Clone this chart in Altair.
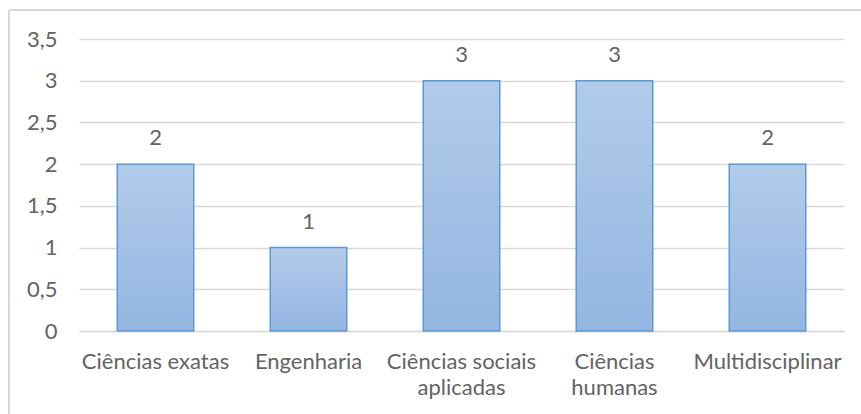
import altair as alt
import pandas as pd

# Number of items per knowledge area
categories = ["Ciências exatas", "Engenharia", "Ciências sociais aplicadas",
              "Ciências humanas", "Multidisciplinar"]
values = [2, 1, 3, 3, 2]
y_ticks = [0, 0.5, 1, 1.5, 2, 2.5, 3, 3.5]

df = pd.DataFrame({"area": categories, "valor": values})

FONT = "Lato"
SIZE = 22
GREY = "#636363"
GRID = "#d9d9d9"

wrap_expr = (
    "datum.label == 'Ciências sociais aplicadas' ? ['Ciências sociais', 'aplicadas'] : "
    "datum.label == 'Ciências humanas' ? ['Ciências', 'humanas'] : datum.label"
)

x_enc = alt.X(
    "area:N", sort=categories, title=None,
    scale=alt.Scale(paddingInner=0.5, paddingOuter=0.25),
    axis=alt.Axis(labelAngle=0, labelExpr=wrap_expr, labelFont=FONT, labelFontSize=SIZE,
                  labelColor=GREY, labelPadding=20, labelLineHeight=26,
                  labelBaseline="top", ticks=False, domainColor=GRID, domainWidth=1.5,
                  grid=False),
)
y_enc = alt.Y(
    "valor:Q", title=None,
    scale=alt.Scale(domain=[0, 3.5], nice=False),
    axis=alt.Axis(values=y_ticks, format="~g",
                  labelExpr="replace(datum.label, '.', ',')",
                  labelFont=FONT, labelFontSize=SIZE, labelColor=GREY, labelPadding=22,
                  ticks=False, domain=False, gridColor=GRID, gridWidth=1.5),
)

bars = alt.Chart(df).mark_bar(
    color=alt.Gradient(
        gradient="linear", x1=0, x2=0, y1=0, y2=1,
        stops=[alt.GradientStop(color="#b2cbe9", offset=0),
               alt.GradientStop(color="#93b6e2", offset=1)],
    ),
    stroke="#5b9bd5", strokeWidth=1.5,
).encode(x=x_enc, y=y_enc)

labels = alt.Chart(df).mark_text(
    font=FONT, fontSize=SIZE, color=GREY, baseline="middle", dy=-26,
).encode(x=alt.X("area:N", sort=categories), y="valor:Q", text="valor:Q")

# Outer chart frame (top and left edges)
frame_top = alt.Chart(df).mark_rule(color=GRID, strokeWidth=1.5).encode(
    x=alt.value(-70), x2=alt.value(800), y=alt.value(-29))
frame_left = alt.Chart(df).mark_rule(color=GRID, strokeWidth=1.5).encode(
    x=alt.value(-70), y=alt.value(-29), y2=alt.value(400))

chart = alt.layer(frame_top, frame_left, bars, labels).properties(
    width=765, height=292,
    padding={"left": 79, "top": 39, "right": 17, "bottom": 83},
    autosize=alt.AutoSizeParams(type="none"),
    background="white",
).configure_view(stroke=None)

chart.save("out.html", embed_options={"renderer": "svg", "actions": False})
